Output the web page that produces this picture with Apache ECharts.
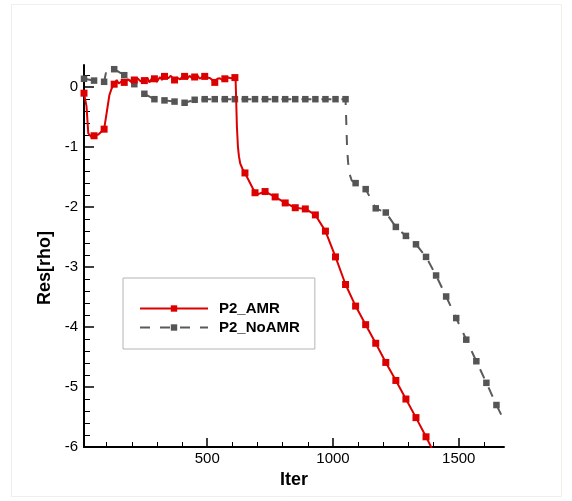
<!DOCTYPE html>
<html>
<head>
<meta charset="utf-8">
<script src="https://cdn.jsdelivr.net/npm/echarts@6/dist/echarts.min.js"></script>
<style>
  html, body { margin: 0; padding: 0; background: #fff; }
  #chart { width: 572px; height: 501px; }
</style>
</head>
<body>
<div id="chart"></div>
<script>
// Residual history of density, with and without adaptive mesh refinement
const amrIter = [10, 20, 27, 40, 50, 67, 90, 100, 111, 120, 130, 140, 148, 160, 170, 185, 197, 210, 222, 235,
  250, 262, 270, 280, 290, 300, 312, 320, 330, 345, 355, 370, 380, 392, 400, 410, 420, 430, 440, 450,
  462, 470, 480, 490, 500, 512, 520, 530, 540, 550, 560, 570, 582, 595, 610, 613, 615, 618, 622, 626,
  631, 640, 650, 690, 705, 730, 770, 810, 850, 890, 930, 970, 1010, 1050, 1090, 1130, 1170, 1210, 1250,
  1290, 1330, 1370, 1395];
const amrRes = [-0.10, -0.32, -0.77, -0.83, -0.81, -0.79, -0.70, -0.43, -0.13, -0.02, 0.05, 0.12, 0.06, 0.10, 0.08, 0.13, 0.09, 0.12, 0.15, 0.10,
  0.11, 0.16, 0.08, 0.15, 0.14, 0.09, 0.17, 0.12, 0.18, 0.15, 0.19, 0.12, 0.16, 0.13, 0.17, 0.18, 0.14, 0.19, 0.15, 0.17,
  0.19, 0.14, 0.17, 0.18, 0.16, 0.15, 0.12, 0.08, 0.14, 0.15, 0.12, 0.14, 0.16, 0.15, 0.16, 0.10, -0.20, -0.66, -0.99, -1.15,
  -1.27, -1.36, -1.43, -1.76, -1.78, -1.74, -1.83, -1.93, -2.01, -2.03, -2.13, -2.40, -2.83, -3.29, -3.65, -3.96, -4.27, -4.59, -4.89,
  -5.20, -5.51, -5.83, -6.04];

const noAmrIter = [10, 50, 90, 101, 130, 170, 210, 250, 290, 330, 370, 410, 450, 490, 530, 570, 610, 650, 690,
  730, 770, 810, 850, 890, 930, 970, 1010, 1050, 1053, 1056, 1060, 1066, 1075, 1090, 1130, 1170, 1210, 1250,
  1290, 1330, 1370, 1410, 1450, 1490, 1530, 1570, 1610, 1650, 1685];
const noAmrRes = [0.14, 0.11, 0.09, 0.32, 0.30, 0.20, 0.05, -0.11, -0.20, -0.22, -0.24, -0.26, -0.21, -0.20, -0.20, -0.20, -0.20, -0.20, -0.20,
  -0.20, -0.20, -0.20, -0.20, -0.20, -0.20, -0.20, -0.20, -0.20, -0.60, -1.00, -1.25, -1.45, -1.56, -1.60, -1.70, -2.02, -2.09, -2.33,
  -2.48, -2.62, -2.83, -3.14, -3.49, -3.85, -4.21, -4.57, -4.93, -5.30, -5.60];

const seriesNames = ['P2_AMR', 'P2_NoAMR'];
const xMajor = [500, 1000, 1500];
const xMinor = [100, 200, 300, 400, 600, 700, 800, 900, 1100, 1200, 1300, 1400, 1600];
const yMajor = [-6, -5, -4, -3, -2, -1, 0];
const yMinor = [-5.8, -5.6, -5.4, -5.2, -4.8, -4.6, -4.4, -4.2, -3.8, -3.6, -3.4, -3.2,
  -2.8, -2.6, -2.4, -2.2, -1.8, -1.6, -1.4, -1.2, -0.8, -0.6, -0.4, -0.2, 0.2];

const FONT = '"Liberation Sans", Arial, Helvetica, sans-serif';
const X_MIN = 10, X_MAX = 1680, Y_MIN = -6, Y_MAX = 0.37;

// markers sit on every 40th iteration, starting at 10
const markerSize = (size) => (v) => ((v[0] - 10) % 40 === 0 ? size : 0);
const plainNumber = (v) => String(v);

const chart = echarts.init(document.getElementById('chart'), null, { renderer: 'canvas' });

const baseX = {
  type: 'value', min: X_MIN, max: X_MAX, position: 'bottom', gridIndex: 0,
  splitLine: { show: false }
};
const baseY = {
  type: 'value', min: Y_MIN, max: Y_MAX, position: 'left', gridIndex: 0,
  splitLine: { show: false }
};

chart.setOption({
  animation: false,
  backgroundColor: '#fff',
  grid: { left: 84, right: 68, top: 65, bottom: 54, containLabel: false },
  xAxis: [
    Object.assign({}, baseX, {
      axisLine: { show: true, onZero: false, lineStyle: { color: '#000', width: 2 } },
      axisTick: { show: true, inside: true, length: 9, customValues: xMajor, lineStyle: { color: '#000', width: 1.5 } },
      axisLabel: { show: true, customValues: xMajor, formatter: plainNumber, color: '#000', fontSize: 15, fontFamily: FONT, margin: 4 },
      name: 'Iter', nameLocation: 'middle', nameGap: 13,
      nameTextStyle: { color: '#000', fontSize: 18, fontWeight: 'bold', fontFamily: FONT }
    }),
    Object.assign({}, baseX, {
      axisLine: { show: false, onZero: false },
      axisTick: { show: true, inside: true, length: 5, customValues: xMinor, lineStyle: { color: '#000', width: 1 } },
      axisLabel: { show: false }
    })
  ],
  yAxis: [
    Object.assign({}, baseY, {
      axisLine: { show: true, onZero: false, lineStyle: { color: '#000', width: 2 } },
      axisTick: { show: true, inside: true, length: 10, customValues: yMajor, lineStyle: { color: '#000', width: 1.5 } },
      axisLabel: { show: true, customValues: yMajor, formatter: plainNumber, color: '#000', fontSize: 15, fontFamily: FONT, margin: 6 }
    }),
    Object.assign({}, baseY, {
      axisLine: { show: false, onZero: false },
      axisTick: { show: true, inside: true, length: 6, customValues: yMinor, lineStyle: { color: '#000', width: 1 } },
      axisLabel: { show: false }
    })
  ],
  legend: {
    orient: 'vertical', left: 123, top: 278,
    padding: [23, 15, 14, 16],
    itemWidth: 68, itemHeight: 8, itemGap: 4,
    borderColor: '#b4b4b4', borderWidth: 1,
    textStyle: { color: '#000', fontSize: 15, fontWeight: 'bold', fontFamily: FONT, padding: [0, 0, 0, 6] },
    data: seriesNames
  },
  series: [
    {
      name: seriesNames[0], type: 'line', xAxisIndex: 0, yAxisIndex: 0, z: 3,
      data: amrIter.map((x, i) => [x, amrRes[i]]),
      symbol: 'rect', symbolSize: markerSize(7), showSymbol: true,
      lineStyle: { color: '#dd0000', width: 2 },
      itemStyle: { color: '#dd0000' },
      clip: true
    },
    {
      name: seriesNames[1], type: 'line', xAxisIndex: 0, yAxisIndex: 0, z: 2,
      data: noAmrIter.map((x, i) => [x, noAmrRes[i]]),
      symbol: 'rect', symbolSize: markerSize(6.5), showSymbol: true,
      lineStyle: { color: '#5a5a5a', width: 2, type: [10, 10] },
      itemStyle: { color: '#555555' },
      clip: true
    }
  ],
  graphic: [
    {
      type: 'rect', silent: true, z: -1,
      shape: { x: 11.5, y: 4.5, width: 550, height: 492 },
      style: { fill: 'none', stroke: '#eeeeee', lineWidth: 1 }
    },
    {
      type: 'text', x: 45, y: 268, rotation: Math.PI / 2,
      style: {
        text: 'Res[rho]', fill: '#000', fontSize: 18, fontWeight: 'bold', fontFamily: FONT,
        align: 'center', verticalAlign: 'middle'
      }
    }
  ]
});
</script>
</body>
</html>
